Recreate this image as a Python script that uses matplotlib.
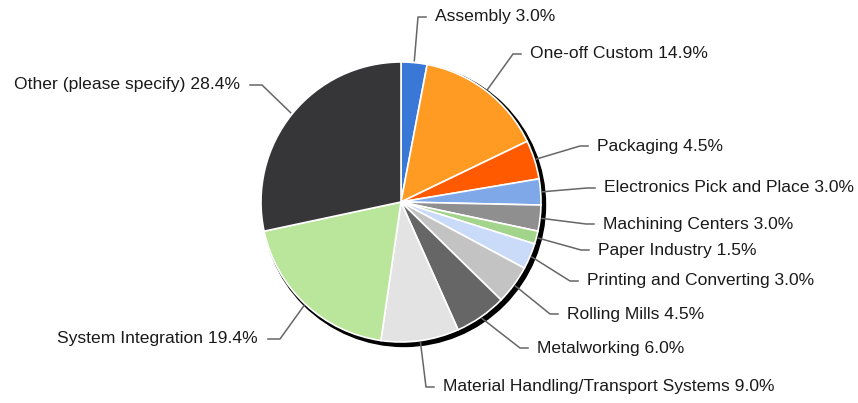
import matplotlib.pyplot as plt
import numpy as np

categories = ["Assembly", "One-off Custom", "Packaging", "Electronics Pick and Place",
              "Machining Centers", "Paper Industry", "Printing and Converting",
              "Rolling Mills", "Metalworking", "Material Handling/Transport Systems",
              "System Integration", "Other (please specify)"]
shares = [3.0, 14.9, 4.5, 3.0, 3.0, 1.5, 3.0, 4.5, 6.0, 9.0, 19.4, 28.4]
colors = ["#3a78d8", "#ff9a22", "#ff5a00", "#7fa8e8", "#8f8f8f", "#a3d48c",
          "#c9dbf8", "#c3c3c3", "#666666", "#e3e3e3", "#bae69b", "#363638"]

# label anchor (x, y in pixels from top-left)
label_pos = [(435, 17), (530, 54), (597, 146), (604, 188), (603, 224), (598, 250),
             (587, 281), (567, 314), (537, 348), (443, 387), (258, 339), (240, 85)]

W, H = 858, 403
cx, cy, r = 401, H - 202, 140

plt.rcParams['font.family'] = ['Liberation Sans', 'DejaVu Sans']
fig = plt.figure(figsize=(W / 100, H / 100), dpi=100)
ax = fig.add_axes([0, 0, 1, 1])

# drop shadow behind the pie
ax.add_patch(plt.Circle((cx + 3, cy - 3), r + 1.5, color='black', zorder=1))

wedges, _ = ax.pie(shares, colors=colors, startangle=90, counterclock=False,
                   center=(cx, cy), radius=r, frame=True,
                   wedgeprops=dict(edgecolor='white', linewidth=1.2, zorder=2))
ax.set_xlim(0, W)
ax.set_ylim(0, H)
ax.set_aspect('equal')
ax.axis('off')

for w, name, val, (lx, ly) in zip(wedges, categories, shares, label_pos):
    mid = np.deg2rad((w.theta1 + w.theta2) / 2)
    sx = cx + (r + 2) * np.cos(mid)
    sy = cy + (r + 2) * np.sin(mid)
    ty = H - ly
    if lx > cx:
        ex, hx, ha = lx - 17, lx - 9, 'left'
    else:
        ex, hx, ha = lx + 22, lx + 10, 'right'
    ax.text(lx, ty, f"{name} {val:.1f}%", ha=ha, va='center', fontsize=12.6, color='#1a1a1a')
    ax.plot([sx, ex, hx], [sy, ty, ty], color='#666666', lw=1.1, zorder=3)

fig.savefig('out.png', dpi=100, facecolor='white')
